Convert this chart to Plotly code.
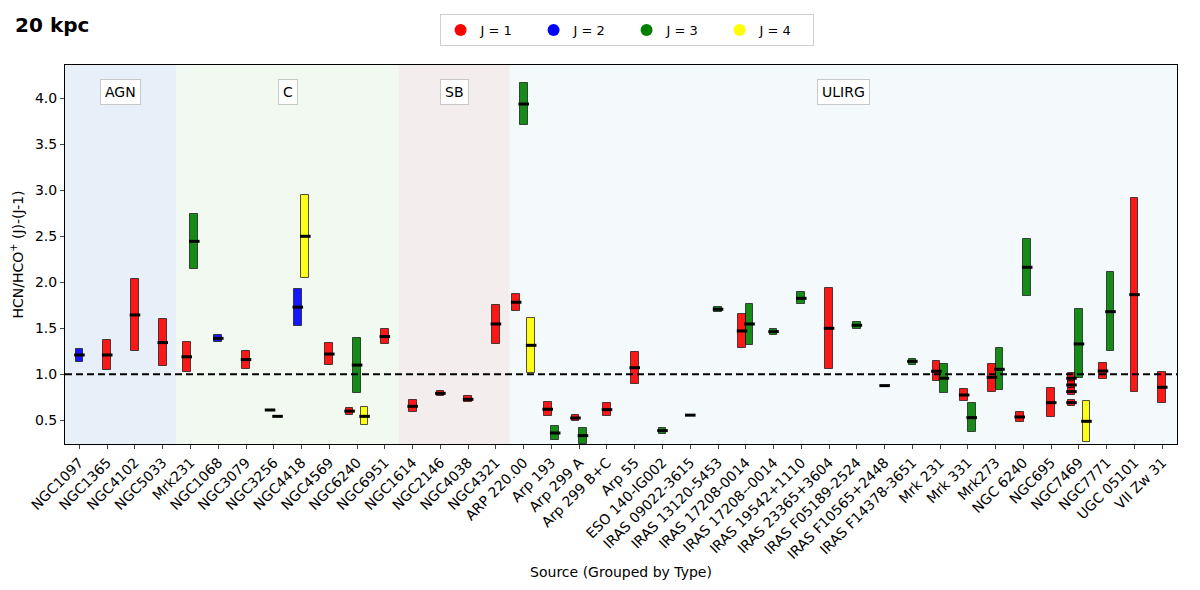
import plotly.graph_objects as go

# ---------------- data ----------------
categories = ["NGC1097", "NGC1365", "NGC4102", "NGC5033",
              "Mrk231", "NGC1068", "NGC3079", "NGC3256", "NGC4418", "NGC4569", "NGC6240", "NGC6951",
              "NGC1614", "NGC2146", "NGC4038", "NGC4321",
              "ARP 220.00", "Arp 193", "Arp 299 A", "Arp 299 B+C", "Arp 55", "ESO 140-IG002",
              "IRAS 09022-3615", "IRAS 13120-5453", "IRAS 17208-0014", "IRAS 17208--0014",
              "IRAS 19542+1110", "IRAS 23365+3604", "IRAS F05189-2524", "IRAS F10565+2448",
              "IRAS F14378-3651", "Mrk 231", "Mrk 331", "Mrk273", "NGC 6240", "NGC695", "NGC7469",
              "NGC7771", "UGC 05101", "VII Zw 31"]
group_names = ["AGN", "C", "SB", "ULIRG"]
group_sizes = [4, 8, 4, 24]
group_colors = ["#e7f0f8", "#f1f9f0", "#f3eded", "#f4f9fc"]

meas_source = ["NGC1097", "NGC1365", "NGC4102", "NGC5033",
               "Mrk231", "Mrk231", "NGC1068", "NGC3079", "NGC3256", "NGC3256",
               "NGC4418", "NGC4418", "NGC4569", "NGC6240", "NGC6240", "NGC6240", "NGC6951",
               "NGC1614", "NGC2146", "NGC4038", "NGC4321",
               "ARP 220.00", "ARP 220.00", "ARP 220.00", "Arp 193", "Arp 193",
               "Arp 299 A", "Arp 299 A", "Arp 299 B+C", "Arp 55", "ESO 140-IG002",
               "IRAS 09022-3615", "IRAS 13120-5453", "IRAS 17208-0014", "IRAS 17208-0014",
               "IRAS 17208--0014", "IRAS 19542+1110", "IRAS 23365+3604", "IRAS F05189-2524",
               "IRAS F10565+2448", "IRAS F14378-3651", "Mrk 231", "Mrk 231", "Mrk 331", "Mrk 331",
               "Mrk273", "Mrk273", "NGC 6240", "NGC 6240", "NGC695",
               "NGC7469", "NGC7469", "NGC7469", "NGC7469", "NGC7469", "NGC7469",
               "NGC7771", "NGC7771", "UGC 05101", "VII Zw 31"]
meas_J = [2, 1, 1, 1,
          1, 3, 2, 1, 1, 3,
          2, 4, 1, 1, 3, 4, 1,
          1, 1, 1, 1,
          1, 3, 4, 1, 3,
          1, 3, 1, 1, 3,
          1, 3, 1, 3,
          3, 3, 1, 3,
          1, 3, 1, 3, 1, 3,
          1, 3, 1, 3, 1,
          1, 1, 1, 1, 3, 4,
          1, 3, 1, 1]
meas_low = [1.13, 1.05, 1.25, 1.095,
            1.02, 2.14, 1.355, 1.055, 0.612, 0.543,
            1.52, 2.045, 1.10, 0.56, 0.80, 0.445, 1.33,
            0.585, 0.762, 0.697, 1.333,
            1.692, 3.71, 1.011, 0.547, 0.286,
            0.493, 0.24, 0.547, 0.899, 0.355,
            0.556, 1.674, 1.283, 1.319,
            1.431, 1.761, 1.058, 1.496,
            0.877, 1.105, 0.924, 0.793, 0.707, 0.373,
            0.812, 0.83, 0.482, 1.855, 0.533,
            0.92, 0.85, 0.78, 0.655, 0.957, 0.268,
            0.946, 1.254, 0.812, 0.685]
meas_mid = [1.21, 1.21, 1.645, 1.345,
            1.19, 2.445, 1.39, 1.16, 0.612, 0.543,
            1.73, 2.50, 1.22, 0.60, 1.10, 0.543, 1.41,
            0.652, 0.793, 0.728, 1.547,
            1.783, 3.938, 1.315, 0.62, 0.362,
            0.525, 0.333, 0.616, 1.072, 0.388,
            0.556, 1.707, 1.471, 1.547,
            1.464, 1.826, 1.50, 1.533,
            0.877, 1.141, 1.033, 0.957, 0.775, 0.529,
            0.967, 1.054, 0.536, 2.163, 0.692,
            0.957, 0.884, 0.812, 0.692, 1.33, 0.489,
            1.036, 1.681, 1.866, 0.859]
meas_high = [1.28, 1.37, 2.035, 1.60,
             1.35, 2.745, 1.425, 1.255, 0.612, 0.543,
             1.93, 2.95, 1.335, 0.635, 1.40, 0.64, 1.49,
             0.717, 0.822, 0.76, 1.754,
             1.877, 4.167, 1.609, 0.696, 0.435,
             0.562, 0.417, 0.685, 1.243, 0.417,
             0.556, 1.736, 1.652, 1.764,
             1.496, 1.891, 1.935, 1.569,
             0.877, 1.17, 1.145, 1.112, 0.844, 0.692,
             1.112, 1.283, 0.591, 2.475, 0.848,
             1.01, 0.93, 0.85, 0.725, 1.71, 0.71,
             1.127, 2.112, 2.92, 1.029]

J_colors = {1: "#ff0000", 2: "#0000ff", 3: "#008000", 4: "#ffff00"}
J_levels = [1, 2, 3, 4]
y_ticks = [0.5, 1.0, 1.5, 2.0, 2.5, 3.0, 3.5, 4.0]

# ---------------- positions ----------------
step = 0.27
bar_w = 0.28
half_med = 0.19

xpos = []
for s, j in zip(meas_source, meas_J):
    js = sorted(set(jj for ss, jj in zip(meas_source, meas_J) if ss == s))
    n = len(js)
    i = js.index(j)
    xpos.append(categories.index(s) + (i - (n - 1) / 2) * step)

fig = go.Figure()

# background regions
x_lo, x_hi = -0.52, len(categories) - 1 + 0.53
bounds = [x_lo]
acc = 0
for g in group_sizes:
    acc += g
    bounds.append(acc - 0.5)
bounds[-1] = x_hi
for k, name in enumerate(group_names):
    fig.add_shape(type="rect", xref="x", yref="paper", x0=bounds[k], x1=bounds[k + 1],
                  y0=0, y1=1, fillcolor=group_colors[k], line=dict(width=0), layer="below")
    fig.add_annotation(x=(bounds[k] + bounds[k + 1]) / 2, y=0.929, xref="x", yref="paper",
                       yanchor="middle", xanchor="center",
                       text=name, showarrow=False, font=dict(size=14, color="black"),
                       bgcolor="white", bordercolor="#c8c8c8", borderwidth=1, borderpad=4)

# bars per J
for J in J_levels:
    idx = [k for k, jj in enumerate(meas_J) if jj == J]
    fig.add_trace(go.Bar(
        x=[xpos[k] for k in idx],
        base=[meas_low[k] for k in idx],
        y=[meas_high[k] - meas_low[k] for k in idx],
        width=bar_w,
        marker=dict(color=J_colors[J], opacity=0.9,
                    line=dict(color="rgba(0,0,0,0.75)", width=1)),
        showlegend=False, hoverinfo="skip"))

# medians
mx, my = [], []
for k in range(len(meas_mid)):
    mx += [xpos[k] - half_med, xpos[k] + half_med, None]
    my += [meas_mid[k], meas_mid[k], None]
fig.add_trace(go.Scatter(x=mx, y=my, mode="lines", line=dict(color="black", width=3),
                         showlegend=False, hoverinfo="skip"))

# legend entries
for J in J_levels:
    fig.add_trace(go.Scatter(x=[None], y=[None], mode="markers",
                             marker=dict(symbol="circle", size=11, color=J_colors[J]),
                             name=f"J = {J}"))

# reference line
fig.add_shape(type="line", xref="paper", yref="y", x0=0, x1=1, y0=1.0, y1=1.0,
              line=dict(color="black", width=2, dash="7px,4px"), layer="above")

fig.update_layout(
    width=1184, height=574,
    margin=dict(l=57, r=15, t=57, b=138, autoexpand=False),
    paper_bgcolor="white", plot_bgcolor="white",
    font=dict(family="DejaVu Sans", size=14, color="black"),
    barmode="overlay", bargap=0,
    title=dict(text="<b>20 kpc</b>", x=0.006, xanchor="left", y=0.970, yanchor="middle",
               font=dict(size=20, family="DejaVu Sans", color="black")),
    legend=dict(orientation="h", x=0.505, xanchor="center", y=1.1346, yanchor="top",
                bgcolor="white", bordercolor="#d0d0d0", borderwidth=1,
                font=dict(size=13), entrywidth=48, itemsizing="constant"),
    xaxis=dict(range=[x_lo, x_hi], tickmode="array", tickvals=list(range(len(categories))),
               ticktext=categories, tickangle=-45, ticks="outside", ticklen=4,
               showline=True, linecolor="black", linewidth=1, mirror=True,
               showgrid=False, zeroline=False, tickfont=dict(size=14), automargin=False,
               title=dict(text="Source (Grouped by Type)", font=dict(size=14), standoff=6)),
    yaxis=dict(range=[0.2424, 4.362], tickmode="array", tickvals=y_ticks,
               ticktext=[f"{v:.1f}" for v in y_ticks], ticks="outside", ticklen=4,
               showline=True, linecolor="black", linewidth=1, mirror=True,
               showgrid=False, zeroline=False, tickfont=dict(size=14), automargin=False,
               title=dict(text="HCN/HCO<sup>+</sup> (J)-(J-1)", font=dict(size=14), standoff=8)),
)

fig.write_html("out.html")
